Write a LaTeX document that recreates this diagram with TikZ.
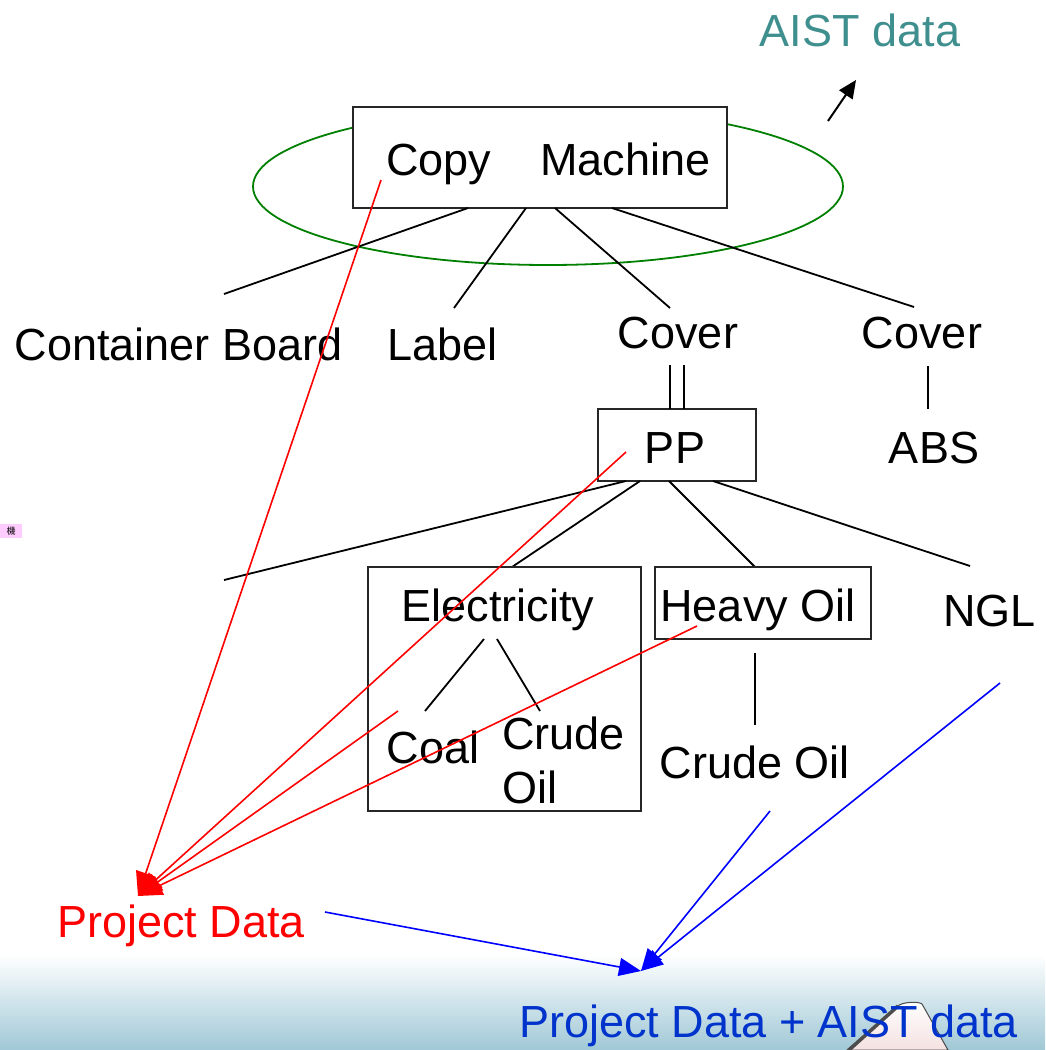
\documentclass[tikz,border=0pt]{standalone}
\usepackage{fontspec}
\setmainfont{Liberation Sans}
\newfontfamily\cjkfont{Noto Sans CJK JP}
\usetikzlibrary{arrows.meta}
\definecolor{aistteal}{RGB}{64,143,143}
\definecolor{ellgreen}{RGB}{0,128,0}
\definecolor{pdblue}{RGB}{0,51,204}
\definecolor{bandblue}{RGB}{160,200,214}
\definecolor{pinkbg}{RGB}{255,204,255}
\begin{document}
\begin{tikzpicture}[x=1pt,y=-1pt,
  lbl/.style={inner sep=0pt, anchor=base, font=\fontsize{45}{54}\selectfont},
  boxnode/.style={draw=black!85, fill=white, line width=2pt, inner sep=0pt},
  tree/.style={draw=black, line width=1.8pt},
  redarr/.style={draw=red, line width=1.6pt, -{Triangle[length=24pt,width=20pt]}},
  bluearr/.style={draw=blue, line width=1.6pt, -{Triangle[length=22pt,width=18pt]}},
  blackarr/.style={draw=black, line width=2pt, -{Triangle[length=18pt,width=16pt]}}]
\useasboundingbox (0,0) rectangle (1045,1050);
\fill[white] (0,0) rectangle (1045,1050);
% bottom band
\shade[top color=white, bottom color=bandblue] (0,955) rectangle (1045,1050);
\filldraw[draw=gray!60!black, line width=1pt, top color=white, bottom color=gray!20!pink!40]
  (847,1050) -- (898,1006) .. controls (902,1002) and (918,1001) .. (922,1004) -- (948,1050) -- cycle;
\draw[gray!60!black, line width=3.5pt] (849,1050) -- (898,1006);

% pink marker
\node[fill=pinkbg, minimum width=22pt, minimum height=14pt, inner sep=0pt,
  font=\cjkfont\fontsize{9}{9}\selectfont] (kan) at (11,531) {機};

% AIST data
\node[lbl, text=aistteal] (aist) at (860,46) {AIST data};
\coordinate (aistfrom) at (828,121);
\coordinate (aistto) at (856,80);
\draw[blackarr] (aistfrom) -- (aistto);

% ellipse
\draw[ellgreen, line width=1.8pt] (548,186.5) ellipse [x radius=295, y radius=78.5];

% Copy Machine
\node[boxnode, minimum width=374pt, minimum height=101pt] (cmbox) at (540,157.5) {};
\node[lbl, anchor=base west] (cm) at (386,175) {Copy\hspace{49pt}Machine};

% first level labels
\node[lbl] (cb) at (178.5,360) {Container Board};
\node[lbl] (label) at (442.5,360) {Label};
\node[lbl] (cover1) at (678,348) {Cover};
\node[lbl] (cover2) at (922,348) {Cover};

\coordinate (c1a) at (468,208); \coordinate (c1b) at (224,294);
\coordinate (c2a) at (526,208); \coordinate (c2b) at (454,308);
\coordinate (c3a) at (555,208); \coordinate (c3b) at (670,308);
\coordinate (c4a) at (612,208); \coordinate (c4b) at (914,307);
\draw[tree] (c1a) -- (c1b);
\draw[tree] (c2a) -- (c2b);
\draw[tree] (c3a) -- (c3b);
\draw[tree] (c4a) -- (c4b);

% PP
\node[boxnode, minimum width=158pt, minimum height=72pt] (ppbox) at (677,445) {};
\node[lbl] (pp) at (675,463) {PP};
\coordinate (dl1a) at (670,365); \coordinate (dl1b) at (670,409);
\coordinate (dl2a) at (684,365); \coordinate (dl2b) at (684,409);
\draw[tree] (dl1a) -- (dl1b);
\draw[tree] (dl2a) -- (dl2b);

% ABS
\node[lbl] (abs) at (934,463) {ABS};
\coordinate (absa) at (928,366); \coordinate (absb) at (928,409);
\draw[tree] (absa) -- (absb);

% PP children
\coordinate (p1a) at (626,481); \coordinate (p1b) at (224,580);
\coordinate (p2a) at (640,481); \coordinate (p2b) at (512,567);
\coordinate (p3a) at (669,481); \coordinate (p3b) at (755,567);
\coordinate (p4a) at (713,481); \coordinate (p4b) at (970,566);
\draw[tree] (p1a) -- (p1b);
\draw[tree] (p2a) -- (p2b);
\draw[tree] (p3a) -- (p3b);
\draw[tree] (p4a) -- (p4b);

% Electricity box
\node[boxnode, fill=none, minimum width=273pt, minimum height=244pt] (elbox) at (504.5,689) {};
\node[lbl] (elec) at (498,621) {Electricity};
\node[lbl] (coal) at (433,763) {Coal};
\node[lbl, anchor=base west] (crude1) at (502,749) {Crude};
\node[lbl, anchor=base west] (oil1) at (502,803) {Oil};
\coordinate (e1a) at (484,639); \coordinate (e1b) at (425,711);
\coordinate (e2a) at (497,639); \coordinate (e2b) at (540,711);
\draw[tree] (e1a) -- (e1b);
\draw[tree] (e2a) -- (e2b);

% Heavy Oil
\node[boxnode, fill=none, minimum width=216pt, minimum height=72pt] (hobox) at (763,603) {};
\node[lbl] (heavy) at (758,621) {Heavy Oil};
\node[lbl] (crude2) at (755,778) {Crude Oil};
\coordinate (hoa) at (755,653); \coordinate (hob) at (755,725);
\draw[tree] (hoa) -- (hob);

% NGL
\node[lbl] (ngl) at (989.5,626) {NGL};

% Project Data
\node[lbl, text=red] (pd) at (181,937) {Project Data};
\coordinate (pdtip) at (138,896);
\coordinate (r1) at (381,180);
\coordinate (r2) at (626,452);
\coordinate (r3) at (398,711);
\coordinate (r4) at (697,626);
\draw[redarr] (r1) -- (pdtip);
\draw[redarr] (r2) -- (pdtip);
\draw[redarr] (r3) -- (pdtip);
\draw[redarr] (r4) -- (pdtip);

% Blue arrows
\coordinate (bltip) at (641,971);
\coordinate (b1) at (325,912);
\coordinate (b2) at (770,811);
\coordinate (b3) at (1000,683);
\draw[bluearr] (b1) -- (bltip);
\draw[bluearr] (b2) -- (bltip);
\draw[bluearr] (b3) -- (bltip);

% bottom title
\node[lbl, text=pdblue] (pda) at (768.5,1037) {Project Data + AIST data};
\end{tikzpicture}
\end{document}
